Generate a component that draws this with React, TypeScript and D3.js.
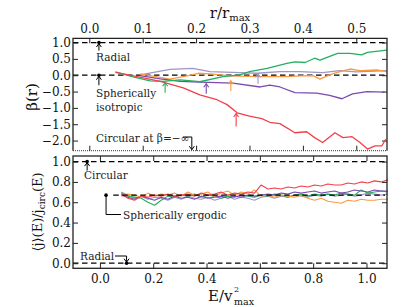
import React, { useRef, useEffect } from 'react';
import * as d3 from 'd3';

const W = 407;
const H = 307;

// ---- top panel: beta(r) ----
const rTicks = [0.0, 0.1, 0.2, 0.3, 0.4, 0.5];
const betaTicks = [1.0, 0.5, 0.0, -0.5, -1.0, -1.5, -2.0];

const rGreen = [0.049, 0.082, 0.114, 0.138, 0.17, 0.207, 0.25, 0.282, 0.3, 0.333, 0.37, 0.385, 0.404, 0.422, 0.432, 0.465, 0.488, 0.51, 0.521, 0.557];
const betaGreen = [0.1, -0.05, -0.17, -0.19, -0.14, -0.2, -0.04, 0.01, 0.11, 0.21, 0.36, 0.41, 0.39, 0.52, 0.46, 0.67, 0.67, 0.62, 0.7, 0.77];

const rOrange = [0.095, 0.151, 0.183, 0.204, 0.226, 0.264, 0.314, 0.37, 0.394, 0.419, 0.432, 0.45, 0.469, 0.488, 0.507, 0.538, 0.557];
const betaOrange = [0.04, -0.12, -0.02, 0.06, 0.04, -0.02, -0.04, -0.04, -0.02, -0.01, -0.12, 0.01, 0.11, 0.19, 0.14, 0.16, 0.11];

const rLavender = [0.095, 0.151, 0.194, 0.226, 0.282, 0.314, 0.357, 0.394, 0.437, 0.469, 0.5, 0.557];
const betaLavender = [0.01, 0.18, 0.21, 0.11, 0.08, 0.06, 0.11, 0.11, 0.08, 0.14, 0.1, 0.14];

const rPurple = [0.095, 0.133, 0.17, 0.207, 0.269, 0.32, 0.338, 0.357, 0.385, 0.426, 0.45, 0.473, 0.493, 0.52, 0.553];
const betaPurple = [-0.01, -0.11, -0.19, -0.21, -0.24, -0.36, -0.3, -0.36, -0.53, -0.55, -0.62, -0.72, -0.57, -0.5, -0.52];

const rRed = [0.049, 0.09, 0.133, 0.176, 0.207, 0.239, 0.258, 0.277, 0.3, 0.323, 0.338, 0.357, 0.385, 0.407, 0.422, 0.437, 0.46, 0.475, 0.492, 0.507, 0.521, 0.535, 0.548, 0.555];
const betaRed = [0.09, -0.04, -0.19, -0.39, -0.6, -0.75, -0.9, -1.15, -1.25, -1.33, -1.44, -1.48, -1.76, -1.73, -1.91, -2.06, -1.76, -1.91, -1.88, -2.06, -2.26, -2.16, -2.16, -1.96];

// ---- bottom panel: <j>(E)/jcirc(E) ----
const eTicks = [0.0, 0.2, 0.4, 0.6, 0.8, 1.0];
const jTicks = [0.0, 0.2, 0.4, 0.6, 0.8, 1.0];
const eGrid = [0.08, 0.105, 0.13, 0.155, 0.18, 0.205, 0.23, 0.255, 0.28, 0.305, 0.33, 0.355, 0.38, 0.405, 0.43, 0.455, 0.48, 0.505, 0.53, 0.555, 0.58, 0.605, 0.63, 0.655, 0.68, 0.705, 0.73, 0.755, 0.78, 0.805, 0.83, 0.855, 0.88, 0.905, 0.93, 0.955, 0.98, 1.005, 1.03, 1.055, 1.08];
const jLavender = [0.70, 0.67, 0.64, 0.66, 0.63, 0.65, 0.64, 0.62, 0.65, 0.63, 0.66, 0.64, 0.63, 0.65, 0.62, 0.64, 0.66, 0.63, 0.65, 0.64, 0.62, 0.65, 0.66, 0.64, 0.66, 0.65, 0.67, 0.66, 0.65, 0.67, 0.66, 0.68, 0.66, 0.67, 0.68, 0.66, 0.67, 0.69, 0.68, 0.67, 0.68];
const jGreen = [0.69, 0.66, 0.65, 0.64, 0.60, 0.57, 0.62, 0.66, 0.65, 0.67, 0.66, 0.68, 0.65, 0.67, 0.66, 0.64, 0.66, 0.65, 0.67, 0.66, 0.65, 0.67, 0.66, 0.68, 0.67, 0.65, 0.67, 0.68, 0.66, 0.68, 0.67, 0.68, 0.67, 0.69, 0.68, 0.67, 0.72, 0.69, 0.70, 0.71, 0.70];
const jPurple = [0.67, 0.65, 0.63, 0.66, 0.64, 0.62, 0.65, 0.63, 0.66, 0.64, 0.65, 0.63, 0.66, 0.64, 0.65, 0.66, 0.64, 0.66, 0.65, 0.67, 0.66, 0.67, 0.68, 0.67, 0.69, 0.68, 0.70, 0.69, 0.70, 0.71, 0.69, 0.70, 0.71, 0.69, 0.70, 0.72, 0.71, 0.70, 0.72, 0.71, 0.71];
const jOrange = [0.66, 0.68, 0.67, 0.65, 0.69, 0.66, 0.68, 0.67, 0.69, 0.66, 0.70, 0.67, 0.68, 0.70, 0.66, 0.69, 0.71, 0.67, 0.70, 0.68, 0.72, 0.66, 0.67, 0.65, 0.67, 0.66, 0.65, 0.67, 0.64, 0.62, 0.64, 0.61, 0.60, 0.59, 0.62, 0.61, 0.63, 0.62, 0.62, 0.63, 0.63];
const jRed = [0.68, 0.64, 0.62, 0.66, 0.65, 0.67, 0.66, 0.68, 0.66, 0.67, 0.68, 0.66, 0.69, 0.67, 0.68, 0.70, 0.67, 0.69, 0.68, 0.70, 0.69, 0.77, 0.73, 0.74, 0.73, 0.75, 0.74, 0.76, 0.75, 0.77, 0.76, 0.78, 0.77, 0.77, 0.79, 0.78, 0.80, 0.79, 0.81, 0.80, 0.82];

const C = {
  green: '#22b05c',
  orange: '#fa9a42',
  lavender: '#9d96c6',
  purple: '#7a4aae',
  red: '#f2404a',
};

// colored markers in top panel: r, beta start, beta tip
const arrowR = [0.142, 0.219, 0.265, 0.316, 0.275];
const arrowFrom = [-0.54, -0.57, -0.48, -0.26, -1.57];
const arrowTo = [-0.23, -0.26, -0.17, 0.04, -1.17];
const arrowColor = [C.green, C.purple, C.orange, C.lavender, C.red];

const SERIF = 'DejaVu Serif';

export default function App() {
  const svgRef = useRef<SVGSVGElement>(null);

  useEffect(() => {
    const svg = d3.select(svgRef.current);
    svg.selectAll('*').remove();
    svg.append('rect').attr('width', W).attr('height', H).attr('fill', '#fff');

    const L = 73, R = 387;
    const T1 = 38.3, B1 = 150.7;
    const T2 = 156, B2 = 268.3;

    const x1 = d3.scaleLinear().domain([-0.0305, 0.5575]).range([L, R]);
    const y1 = d3.scaleLinear().domain([-2.31, 1.13]).range([B1, T1]);
    const x2 = d3.scaleLinear().domain([-0.101, 1.077]).range([L, R]);
    const y2 = d3.scaleLinear().domain([-0.05, 1.055]).range([B2, T2]);

    const styleAxis = (ax: any) => {
      ax.select('.domain').remove();
      ax.selectAll('line').attr('stroke', '#222').attr('stroke-width', 1);
      ax.selectAll('text').attr('fill', '#111').attr('font-size', 12).attr('font-family', SERIF);
    };

    // ---------- top panel ----------
    [1.0, 0.0].forEach(b => {
      svg.append('line').attr('x1', L).attr('x2', R).attr('y1', y1(b)).attr('y2', y1(b))
        .attr('stroke', '#000').attr('stroke-width', 1.2).attr('stroke-dasharray', '5.5,3.5');
    });
    svg.append('line').attr('x1', L).attr('x2', R).attr('y1', B1).attr('y2', B1)
      .attr('stroke', '#000').attr('stroke-width', 0.8).attr('stroke-dasharray', '1,1');

    svg.append('g').attr('transform', `translate(0,${T1})`)
      .call(d3.axisTop(x1).tickValues(rTicks).tickSizeInner(-5).tickSizeOuter(0).tickPadding(5).tickFormat(d3.format('.1f')))
      .call(styleAxis);
    svg.append('g').attr('transform', `translate(0,${B1})`)
      .call(d3.axisBottom(x1).tickValues(rTicks).tickSizeInner(-5).tickSizeOuter(0).tickFormat(() => ''))
      .call(styleAxis);
    svg.append('g').attr('transform', `translate(${L},0)`)
      .call(d3.axisLeft(y1).tickValues(betaTicks).tickSizeInner(-5).tickSizeOuter(0).tickPadding(2).tickFormat(d3.format('.1f')))
      .call(styleAxis);
    svg.append('g').attr('transform', `translate(${R},0)`)
      .call(d3.axisRight(y1).tickValues(betaTicks).tickSizeInner(-5).tickSizeOuter(0).tickFormat(() => ''))
      .call(styleAxis);

    const topLine = (rs: number[], bs: number[], color: string) => {
      const pts = rs.map((r, i) => [r, bs[i]] as [number, number]);
      svg.append('path').datum(pts)
        .attr('d', d3.line<[number, number]>().x(d => x1(d[0])).y(d => y1(d[1])))
        .attr('fill', 'none').attr('stroke', color).attr('stroke-width', 1.3).attr('stroke-linejoin', 'round');
    };
    topLine(rLavender, betaLavender, C.lavender);
    topLine(rOrange, betaOrange, C.orange);
    topLine(rPurple, betaPurple, C.purple);
    topLine(rGreen, betaGreen, C.green);
    topLine(rRed, betaRed, C.red);

    const arrow = (x: number, ya: number, yb: number, color: string, w = 1) => {
      const dir = yb < ya ? 1 : -1;
      svg.append('line').attr('x1', x).attr('x2', x).attr('y1', ya).attr('y2', yb)
        .attr('stroke', color).attr('stroke-width', w);
      svg.append('path')
        .attr('d', `M${x - 2.5},${yb + dir * 3.5}L${x},${yb}L${x + 2.5},${yb + dir * 3.5}`)
        .attr('fill', 'none').attr('stroke', color).attr('stroke-width', w);
    };
    arrowR.forEach((r, i) => arrow(x1(r), y1(arrowFrom[i]), y1(arrowTo[i]), arrowColor[i], 1.1));

    // frame (no solid bottom)
    svg.append('path').attr('d', `M${L},${B1}V${T1}H${R}V${B1}`)
      .attr('fill', 'none').attr('stroke', '#222').attr('stroke-width', 1.3);

    const dot = (x: number, y: number) =>
      svg.append('circle').attr('cx', x).attr('cy', y).attr('r', 1.8).attr('fill', '#000');
    const label = (x: number, y: number, t: string) =>
      svg.append('text').attr('x', x).attr('y', y).attr('font-family', SERIF).attr('font-size', 10.5)
        .attr('fill', '#222').text(t);

    // annotations top
    dot(x1(0.018), y1(1.0));
    arrow(x1(0.018), y1(1.0) + 8, y1(1.0) + 1, '#000', 1);
    label(96, 60.5, 'Radial');
    dot(x1(0.018), y1(0.0));
    arrow(x1(0.018), y1(0.0) + 10, y1(0.0) + 1, '#000', 1);
    label(96, 96.5, 'Spherically');
    label(96, 110.5, 'isotropic');
    label(96, 141.5, 'Circular at β=−∞');
    const cx = x1(0.192);
    svg.append('path').attr('d', `M183,137H${cx}V${B1 - 1}`)
      .attr('fill', 'none').attr('stroke', '#000').attr('stroke-width', 1);
    svg.append('path').attr('d', `M${cx - 2.5},${B1 - 4.5}L${cx},${B1 - 1}L${cx + 2.5},${B1 - 4.5}`)
      .attr('fill', 'none').attr('stroke', '#000').attr('stroke-width', 1);

    // ---------- bottom panel ----------
    [1.0, 0.0].forEach(j => {
      svg.append('line').attr('x1', L).attr('x2', R).attr('y1', y2(j)).attr('y2', y2(j))
        .attr('stroke', '#000').attr('stroke-width', 1.2).attr('stroke-dasharray', '5.5,3.5');
    });

    svg.append('g').attr('transform', `translate(0,${B2})`)
      .call(d3.axisBottom(x2).tickValues(eTicks).tickSizeInner(-5).tickSizeOuter(0).tickPadding(6).tickFormat(d3.format('.1f')))
      .call(styleAxis);
    svg.append('g').attr('transform', `translate(0,${T2})`)
      .call(d3.axisTop(x2).tickValues(eTicks).tickSizeInner(-5).tickSizeOuter(0).tickFormat(() => ''))
      .call(styleAxis);
    svg.append('g').attr('transform', `translate(${L},0)`)
      .call(d3.axisLeft(y2).tickValues(jTicks).tickSizeInner(-5).tickSizeOuter(0).tickPadding(2).tickFormat(d3.format('.1f')))
      .call(styleAxis);
    svg.append('g').attr('transform', `translate(${R},0)`)
      .call(d3.axisRight(y2).tickValues(jTicks).tickSizeInner(-5).tickSizeOuter(0).tickFormat(() => ''))
      .call(styleAxis);

    const botLine = (js: number[], color: string) => {
      const pts = eGrid.map((e, i) => [e, js[i]] as [number, number]);
      svg.append('path').datum(pts)
        .attr('d', d3.line<[number, number]>().x(d => x2(d[0])).y(d => y2(d[1])))
        .attr('fill', 'none').attr('stroke', color).attr('stroke-width', 1.1).attr('stroke-linejoin', 'round');
    };
    botLine(jLavender, C.lavender);
    botLine(jGreen, C.green);
    botLine(jPurple, C.purple);
    botLine(jOrange, C.orange);
    botLine(jRed, C.red);

    svg.append('line').attr('x1', x2(0.05)).attr('x2', R - 2).attr('y1', y2(0.67)).attr('y2', y2(0.67))
      .attr('stroke', '#000').attr('stroke-width', 1.2).attr('stroke-dasharray', '5.5,3.5');

    svg.append('rect').attr('x', L).attr('y', T2).attr('width', R - L).attr('height', B2 - T2)
      .attr('fill', 'none').attr('stroke', '#222').attr('stroke-width', 1.3);

    // annotations bottom
    dot(x2(-0.048), y2(1.0));
    arrow(x2(-0.048), y2(1.0) + 9, y2(1.0) + 1, '#000', 1);
    label(84, 178.5, 'Circular');
    dot(x2(0.023), y2(0.67));
    svg.append('path').attr('d', `M${x2(0.023)},${y2(0.67)}V214.5H121`)
      .attr('fill', 'none').attr('stroke', '#000').attr('stroke-width', 1);
    label(123, 218.5, 'Spherically ergodic');
    label(80, 260, 'Radial');
    const rx = x2(0.1);
    dot(rx, y2(0.0));
    svg.append('path').attr('d', `M115,256H${rx}V${y2(0.0) - 1}`)
      .attr('fill', 'none').attr('stroke', '#000').attr('stroke-width', 1);
    svg.append('path').attr('d', `M${rx - 2.5},${y2(0) - 4.5}L${rx},${y2(0) - 1}L${rx + 2.5},${y2(0) - 4.5}`)
      .attr('fill', 'none').attr('stroke', '#000').attr('stroke-width', 1);

    // ---------- axis titles ----------
    const t1 = svg.append('text').attr('x', 230).attr('y', 18).attr('text-anchor', 'middle')
      .attr('font-family', SERIF).attr('font-size', 15).attr('fill', '#111');
    t1.append('tspan').text('r/r');
    t1.append('tspan').attr('dy', 3).attr('font-size', 10).text('max');

    svg.append('text').attr('x', 208).attr('y', 301)
      .attr('font-family', SERIF).attr('font-size', 15).attr('fill', '#111').text('E/v');
    svg.append('text').attr('x', 234).attr('y', 292)
      .attr('font-family', SERIF).attr('font-size', 8).attr('fill', '#111').text('2');
    svg.append('text').attr('x', 234).attr('y', 305)
      .attr('font-family', SERIF).attr('font-size', 9.5).attr('fill', '#111').text('max');

    svg.append('text').attr('transform', 'translate(37,97) rotate(-90)').attr('text-anchor', 'middle')
      .attr('font-family', SERIF).attr('font-size', 15).attr('fill', '#111').text('β(r)');

    const t3 = svg.append('text').attr('transform', 'translate(42,212) rotate(-90)').attr('text-anchor', 'middle')
      .attr('font-family', SERIF).attr('font-size', 13).attr('fill', '#111');
    t3.append('tspan').text('⟨j⟩(E)/j');
    t3.append('tspan').attr('dy', 3).attr('font-size', 9).text('circ');
    t3.append('tspan').attr('dy', -3).text('(E)');
  }, []);

  return (
    <svg ref={svgRef} width={W} height={H}
      style={{ position: 'absolute', left: 0, top: 0, display: 'block' }} />
  );
}
